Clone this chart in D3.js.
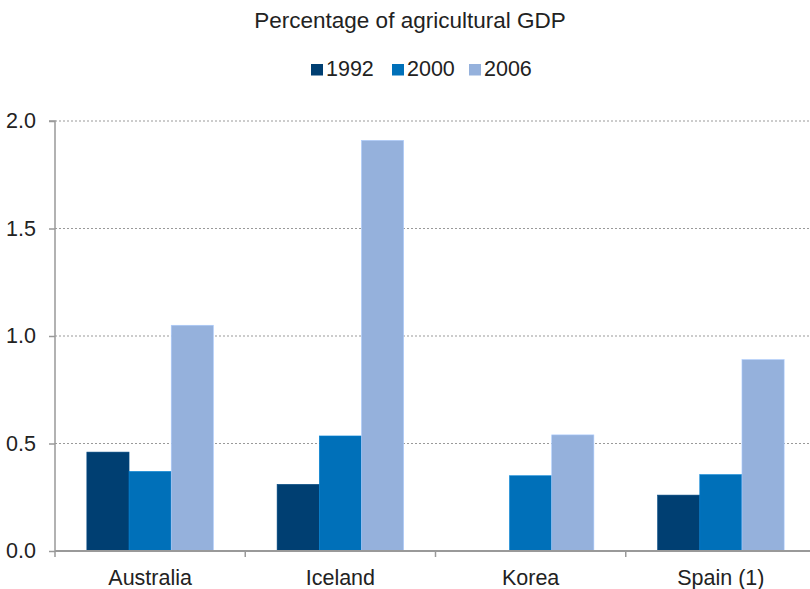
<!DOCTYPE html>
<html><head><meta charset="utf-8">
<script src="https://cdn.jsdelivr.net/npm/d3@7"></script>
<style>body{margin:0;background:#fff;} text{font-family:"Liberation Sans",Arial,sans-serif;fill:#222;}</style>
</head><body><svg id="c" width="810" height="589"></svg>
<script>
const categories = ["Australia","Iceland","Korea","Spain (1)"];
const seriesNames = ["1992","2000","2006"];
const v1992 = [0.46, 0.31, null, 0.26];
const v2000 = [0.37, 0.535, 0.35, 0.355];
const v2006 = [1.05, 1.91, 0.54, 0.89];
const yTicks = [0, 0.5, 1.0, 1.5, 2.0];
const colors = ["#003f72","#0070b9","#95b1dc"];
const seriesVals = [v1992, v2000, v2006];

const svg = d3.select("#c");
const mLeft = 55, mRight = 816, mTop = 121, mBottom = 551;
const x0 = d3.scaleBand().domain(categories).range([mLeft, mRight]).padding(0);
const groupW = x0.bandwidth() * 0.665;
const x1 = d3.scaleBand().domain(seriesNames).range([0, groupW]).padding(0);
const y = d3.scaleLinear().domain([0, 2]).range([mBottom, mTop]);
const FONT = '"Liberation Sans",Arial,sans-serif';

// gridlines
svg.append("g").selectAll("line").data(yTicks.filter(d=>d>0)).join("line")
  .attr("x1", mLeft).attr("x2", 810).attr("y1", d=>y(d)).attr("y2", d=>y(d))
  .attr("stroke", "#999").attr("stroke-width", 1).attr("stroke-dasharray", "2,2");

// bars
const g = svg.append("g");
categories.forEach((c, i) => {
  const gx = x0(c) + (x0.bandwidth() - groupW) / 2;
  seriesNames.forEach((s, j) => {
    const v = seriesVals[j][i];
    if (v == null) return;
    g.append("rect").attr("x", gx + x1(s)).attr("width", x1.bandwidth())
      .attr("y", y(v)).attr("height", y(0) - y(v)).attr("fill", colors[j])
      .attr("stroke", d3.color(colors[j]).brighter(0.4)).attr("stroke-width", 0.6);
  });
});

// y axis
const yAxis = d3.axisLeft(y).tickValues(yTicks).tickFormat(d3.format(".1f")).tickSize(6).tickPadding(13);
const ya = svg.append("g").attr("transform", `translate(${mLeft},0)`).call(yAxis);
ya.select(".domain").attr("stroke", "#999").attr("stroke-width", 1.5).attr("d", `M-6,${mTop}H0V${mBottom}`);
ya.selectAll(".tick line").attr("stroke", "#999").attr("stroke-width", 1.5);
ya.selectAll(".tick text").attr("font-size", 21.5).attr("fill", "#222").style("font-family", FONT);

// x axis
const xAxis = d3.axisBottom(x0).tickSize(0).tickPadding(19);
const xa = svg.append("g").attr("transform", `translate(0,${mBottom})`).call(xAxis);
xa.select(".domain").attr("stroke", "#999").attr("stroke-width", 2).attr("d", `M${mLeft},0H810`);
xa.selectAll(".tick text").attr("font-size", 21.5).attr("fill", "#222").style("font-family", FONT);
svg.append("g").selectAll("line").data(categories).join("line")
  .attr("x1", d=>x0(d)).attr("x2", d=>x0(d)).attr("y1", mBottom).attr("y2", mBottom+6)
  .attr("stroke", "#999").attr("stroke-width", 1.5);

// title
svg.append("text").attr("x", 410).attr("y", 28).attr("text-anchor", "middle")
  .attr("font-size", 22.5).text("Percentage of agricultural GDP");

// legend
const legX = [311, 392, 469];
const leg = svg.append("g");
seriesNames.forEach((s, j) => {
  leg.append("rect").attr("x", legX[j]).attr("y", 64).attr("width", 12).attr("height", 11.5).attr("fill", colors[j]);
  leg.append("text").attr("x", legX[j] + 15).attr("y", 76).attr("font-size", 21.5).text(s);
});
</script></body></html>
